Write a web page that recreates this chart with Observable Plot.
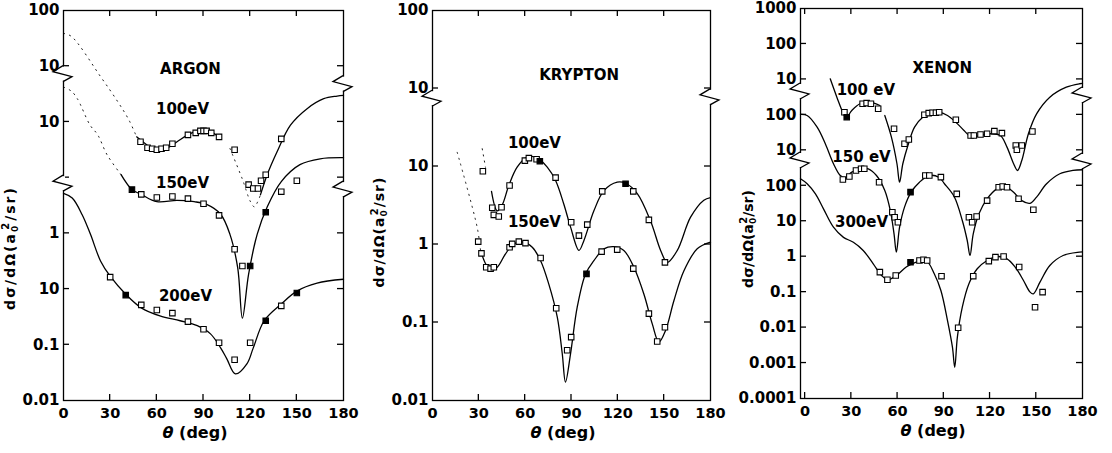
<!DOCTYPE html>
<html><head><meta charset="utf-8">
<script src="https://cdn.jsdelivr.net/npm/d3@7"></script>
<script src="https://cdn.jsdelivr.net/npm/@observablehq/plot@0.6"></script>
<style>
body{margin:0;background:#fff;}
#wrap{display:flex;width:1112px;height:453px;overflow:hidden;}
#wrap svg{overflow:visible;}
</style></head><body><div id="wrap"></div>
<script>
// ---------- shared ----------
const xTicks = [0, 30, 60, 90, 120, 150, 180];

// ---------- ARGON (values on the panel's continuous log axis) ----------
const argonTicks = [0.01, 0.1, 1, 10, 100, 1000, 1e4, 1e5];
const argonTickLabels = ["0.01", "0.1", "10", "1", "", "10", "10", "100"];
const argon100Dotted = [[0,38800],[5,34400],[24,6400],[35,2280],[42,1090],[47,540]];
const argon100Solid = [[47,540],[52,420],[60,300],[67,343],[73,440],[80,586],[88,720],[94.5,663],[100,540]];
const argon100DottedB = [[107,334],[114.8,97],[120.2,37],[122.7,30],[126.6,49]];
const argon100SolidB = [[126.6,49],[130.9,112],[137.3,291],[145.9,873],[156.6,1730],[167.3,2610],[175.9,2910],[180,3000]];
const argon100Open = [[49.5,440],[54,343],[57,330],[60,316],[63,330],[66,343],[70,405],[80,586],[85,636],[88,690],[90,690],[92,690],[95,636],[100,540],[110,316],[119,75],[122,64],[125,64],[127,88],[130,113],[140,497]];
const argon150Dotted = [[0,4220],[5,3580],[9,2580],[17,884],[22,586],[28,258],[37,113]];
const argon150Solid = [[37,113],[44,61],[50,50],[60,37],[73,39],[84,37],[92,33],[101,22],[107,9.6],[112,2.4],[115,0.30],[119,1.85],[124.5,9.6],[131,30],[140,85],[152,171],[165,218],[180,228]];
const argon150Open = [[50,50],[60,44],[70,46],[80,42],[90,34],[100,21],[110,5.2],[115,2.6],[140,56],[150,88]];
const argon150Filled = [[44,61],[120,2.6],[130,24]];
const argon200Solid = [[0,52],[5.6,43],[12,21.6],[17.4,9.5],[23.8,3.2],[30,1.7],[40,0.81],[50,0.46],[62,0.33],[75,0.27],[86,0.22],[94.5,0.157],[101,0.088],[105,0.056],[110.5,0.030],[118,0.046],[122,0.088],[129,0.27],[140,0.54],[150,0.92],[163,1.28],[180,1.5]];
const argon200Open = [[30,1.64],[50,0.52],[60,0.42],[70,0.37],[80,0.26],[90,0.19],[100,0.109],[110,0.054],[120,0.109],[140,0.50]];
const argon200Filled = [[40,0.78],[130,0.27],[150,0.85]];
const argonLabels = [
  {t: "ARGON", x: 81.6, y: 8830},
  {t: "100eV", x: 76.5, y: 1710},
  {t: "150eV", x: 76.5, y: 78},
  {t: "200eV", x: 78.4, y: 0.75}
];
const argonBreaksLeft = [7200, 78];
const argonBreaksRight = [4770, 61];

// ---------- KRYPTON ----------
const kryptonTicks = [0.01, 0.1, 1, 10, 100, 1000];
const kryptonTickLabels = ["0.01", "0.1", "1", "10", "10", "100"];
const krypton100Dotted = [[32.2,16.9],[34.3,9.8]];
const krypton100Solid = [[38.2,4.8],[41.9,2.7],[45.1,3.2],[49.4,5.7],[54.8,9.8],[61.3,13.2],[67.8,12.9],[74.3,9.8],[79.7,6.6],[85,3.3],[89.4,1.67],[94.8,0.84],[98,1.12],[104.5,2.7],[111,4.9],[119.6,6.3],[125,6.1],[132.6,4.5],[141.2,2.0],[147.7,0.84],[152,0.59],[158.5,0.84],[167.1,2.24],[175.7,3.7],[180,4.0]];
const krypton100Open = [[32.6,8.7],[38.7,2.96],[39.7,2.4],[42.9,2.29],[44.7,3.0],[49.9,5.7],[59.8,11.9],[62.4,12.8],[67.4,12.4],[79.7,7.2],[89.8,1.93],[94.8,1.30],[100.2,1.80],[109.9,4.8],[130,4.8],[140.1,2.07],[150.5,0.59]];
const krypton100Filled = [[69.5,11.7],[125,6.0]];
const krypton150Dotted = [[16,15.2],[28.9,1.67],[31.1,0.84]];
const krypton150Solid = [[31.1,0.84],[34.3,0.57],[37.6,0.46],[41.9,0.51],[47.3,0.76],[52.7,1.02],[59.1,1.07],[64.6,0.92],[70,0.62],[75.3,0.31],[80.8,0.117],[84,0.040],[86.1,0.0172],[89.4,0.040],[93.7,0.157],[99.1,0.42],[104.5,0.62],[111,0.88],[117.4,0.94],[123.9,0.84],[130.4,0.51],[136.9,0.23],[142.3,0.096],[146.6,0.056],[150.9,0.079],[156.3,0.19],[162.8,0.46],[171.4,0.88],[180,1.07]];
const krypton150Open = [[29.6,1.09],[31.7,0.77],[34.8,0.51],[37.6,0.49],[39.7,0.51],[49.9,0.92],[51.6,1.02],[55.9,1.09],[60.2,1.04],[70,0.67],[80.1,0.152],[87.2,0.044],[89.8,0.065],[109.5,0.81],[119.6,0.86],[130,0.49],[140.1,0.13],[145.5,0.057],[150.5,0.087]];
const krypton150Filled = [[99.7,0.42]];
const kryptonLabels = [
  {t: "KRYPTON", x: 94.9, y: 147},
  {t: "100eV", x: 66, y: 19.7},
  {t: "150eV", x: 66, y: 1.91}
];
const kryptonBreaksLeft = [74];
const kryptonBreaksRight = [77];

// ---------- XENON ----------
const xenonTicks = [1e-4, 1e-3, 0.01, 0.1, 1, 10, 100, 1e3, 1e4, 1e5, 1e6, 1e7];
const xenonTickLabels = ["0.0001", "0.001", "0.01", "0.1", "1", "10", "100", "10", "100", "10", "100", "1000"];
const xenon100SolidA = [[16.3,104000],[20.6,31600],[24.9,10700],[26.6,8300],[30.3,13300],[35.6,20600],[42,22800],[48.5,18400]];
const xenon100SolidB = [[51.7,9600],[56,2350],[59.6,418],[61.3,126],[63.4,418],[66.7,1370],[71,4500],[76.3,8600],[82.7,11900],[87,11900],[92.4,9600],[97.8,6200],[103.1,3630],[107.4,2460],[113.8,2620],[120.3,2930],[126.7,2620],[131,1230],[135.3,418],[137.8,270],[140.6,517],[144.9,2930],[150.2,10700],[158.8,31600],[169.5,60400],[178,75400],[180,76900]];
const xenon100Open = [[25.5,11900],[37.3,20600],[39.9,21400],[42.7,20600],[47.4,14900],[57.7,4060],[64.5,1530],[67.3,2020],[77.4,10100],[80.2,11200],[82.7,11500],[84.9,11500],[87,11900],[97.8,7300],[107.4,2620],[109.5,2620],[113.8,2800],[118.1,2930],[122.8,3470],[127.7,3050],[136.7,1370],[137.4,1040],[140.6,1370],[147.5,3400]];
const xenon100Filled = [[27,8600]];
const xenon150Solid = [[-3,10300],[1.3,9600],[7.8,4500],[13.1,1530],[18.4,418],[22.8,195],[26,168],[30.3,242],[36.7,301],[41,301],[46.3,195],[51.7,74],[55.3,20],[57.7,4.4],[59.2,1.34],[61.3,6.8],[64.5,25],[68.8,66],[74.2,126],[80.6,195],[87,171],[90.3,116],[96.7,50],[102,10.5],[105.2,2.86],[107,1.08],[109.1,4.4],[112.8,16.2],[118.1,43],[124.5,82],[129.9,95],[135.3,66],[140.6,38],[146,32],[150.2,48],[156.7,114],[165.3,218],[173.8,270],[180,283]];
const xenon150Open = [[24.5,151],[28.7,183],[33,270],[36.3,301],[38.4,301],[48,126],[56.6,18],[58.1,13],[60.2,9.4],[78,195],[80.6,195],[88.1,175],[98.4,59],[106.3,13],[108.4,9.4],[111.3,13.6],[118.1,38],[125.6,91],[128.2,95],[131,91],[138.5,43],[148.1,21]];
const xenon150Filled = [[68.4,66]];
const xenon300Solid = [[-3,157],[1.3,114],[6.7,59],[12,22],[18.4,6.8],[24.9,3.5],[31.3,2.56],[37.7,1.50],[44.2,0.63],[49.6,0.295],[53.8,0.223],[59.2,0.295],[65.6,0.51],[72.1,0.70],[78.5,0.78],[83.8,0.33],[88.1,0.111],[92.4,0.0158],[95.6,0.0028],[97.1,0.00076],[98.8,0.0054],[102,0.0376],[106.3,0.172],[111.7,0.456],[118.1,0.78],[124.5,1.01],[131,0.87],[136.3,0.51],[141.7,0.213],[146,0.100],[148.1,0.090],[152.4,0.191],[158.8,0.565],[167.4,1.08],[178,1.34],[180,1.36]];
const xenon300Open = [[48.5,0.366],[53.4,0.223],[58.8,0.295],[74.2,0.78],[76.8,0.82],[79.2,0.78],[88.5,0.282],[99.3,0.0099],[109.1,0.282],[119.2,0.75],[123.5,0.97],[128.8,1.01],[138.9,0.51],[149.2,0.0376],[154.1,0.100]];
const xenon300Filled = [[68.4,0.70]];
const xenonLabels = [
  {t: "XENON", x: 89, y: 204000},
  {t: "100 eV", x: 39.4, y: 48800},
  {t: "150 eV", x: 36.6, y: 628},
  {t: "300eV", x: 36.6, y: 9.2}
];
const xenonBreaksLeft = [45700, 517];
const xenonBreaksRight = [35200, 484];

const FONT = "'DejaVu Sans', 'Liberation Sans', Arial, sans-serif";

function decor(cfg) {
  return (index, scales, values, dims) => {
    const x = scales.x, y = scales.y;
    const L = dims.marginLeft, R = dims.width - dims.marginRight;
    const T = dims.marginTop, B = dims.height - dims.marginBottom;
    const g = d3.create("svg:g");
    const ln = g.append("g").attr("stroke", "black").attr("stroke-width", 1.3).attr("fill", "none");
    for (const t of xTicks) {
      const px = x(t);
      if (px <= L + 2 || px >= R - 2) continue;
      ln.append("line").attr("x1", px).attr("x2", px).attr("y1", B).attr("y2", B - 6);
      ln.append("line").attr("x1", px).attr("x2", px).attr("y1", T).attr("y2", T + 6);
    }
    for (const v of cfg.yTicks) {
      const py = y(v);
      if (py <= T + 2 || py >= B - 2) continue;
      ln.append("line").attr("x1", L).attr("x2", L + 6).attr("y1", py).attr("y2", py);
      ln.append("line").attr("x1", R).attr("x2", R - 6).attr("y1", py).attr("y2", py);
    }
    const zig = (ax, py) => {
      g.append("line").attr("x1", ax).attr("x2", ax).attr("y1", py - 7).attr("y2", py + 7)
        .attr("stroke", "white").attr("stroke-width", 4);
      g.append("path").attr("d", `M${ax},${py - 8}L${ax - 10},${py - 2}L${ax + 9},${py + 3}L${ax},${py + 8}`)
        .attr("fill", "none").attr("stroke", "black").attr("stroke-width", 1.3);
    };
    cfg.breaksLeft.forEach(v => zig(L, y(v)));
    cfg.breaksRight.forEach(v => zig(R, y(v)));
    const xt = g.append("text").attr("x", (L + R) / 2 - 8).attr("y", B + 38)
      .attr("text-anchor", "middle").attr("font-size", 16).attr("font-weight", "bold")
      .attr("font-family", FONT).attr("fill", "black");
    xt.append("tspan").attr("font-style", "italic").text("θ");
    xt.append("tspan").text(" (deg)");
    const yt = g.append("text")
      .attr("transform", `translate(${cfg.yTitleX},${(T + B) / 2 + cfg.yTitleDy}) rotate(-90)`)
      .attr("text-anchor", "middle").attr("font-size", 14).attr("font-weight", "bold")
      .attr("letter-spacing", cfg.yTitleSpacing)
      .attr("font-family", FONT).attr("fill", "black");
    yt.append("tspan").text("dσ/dΩ(a");
    yt.append("tspan").attr("font-size", 9).attr("dy", 3).text("0");
    yt.append("tspan").attr("font-size", 10).attr("dy", -9).attr("dx", -6).text("2");
    yt.append("tspan").attr("dy", 6).text("/sr)");
    return g.node();
  };
}

function panel(cfg) {
  const yLab = new Map(cfg.yTicks.map((t, i) => [t, cfg.yLabels[i]]));
  const acc = {x: d => d[0], y: d => d[1]};
  return Plot.plot({
    width: cfg.width, height: 453,
    marginLeft: cfg.ml, marginRight: cfg.mr, marginTop: cfg.mt, marginBottom: cfg.mb,
    x: {domain: cfg.xDomain},
    y: {type: "log", domain: cfg.yDomain},
    style: {fontFamily: FONT, fontWeight: "bold", background: "white", color: "black", overflow: "visible"},
    marks: [
      Plot.frame({stroke: "black", strokeWidth: 1.3}),
      Plot.axisX({ticks: xTicks, tickSize: 0, tickPadding: 7, fontSize: 14.5, fontWeight: "bold", label: null}),
      Plot.axisY({ticks: cfg.yTicks, tickFormat: d => yLab.get(d), tickSize: 0, tickPadding: 4, fontSize: 15, fontWeight: "bold", label: null}),
      ...cfg.dotted.map(s => Plot.line(s, {...acc, curve: "catmull-rom", stroke: "black", strokeWidth: 0.9, strokeDasharray: "1.2,5"})),
      ...cfg.solid.map(s => Plot.line(s, {...acc, curve: "catmull-rom", stroke: "black", strokeWidth: 1.3})),
      Plot.dot(cfg.open.flat(), {...acc, symbol: "square", r: 3.1, fill: "white", stroke: "black", strokeWidth: 1.1}),
      Plot.dot(cfg.filled.flat(), {...acc, symbol: "square", r: 3.1, fill: "black", stroke: "black", strokeWidth: 1.1}),
      Plot.text(cfg.labels, {x: "x", y: "y", text: "t", fontSize: 15, fontWeight: "bold", fill: "black"}),
      decor(cfg)
    ]
  });
}

const wrap = document.getElementById("wrap");
wrap.append(panel({
  width: 370, ml: 63, mr: 27, mt: 10, mb: 53,
  xDomain: [0, 180], yDomain: [0.01, 1e5],
  yTicks: argonTicks, yLabels: argonTickLabels,
  dotted: [argon100Dotted, argon100DottedB, argon150Dotted],
  solid: [argon100Solid, argon100SolidB, argon150Solid, argon200Solid],
  open: [argon100Open, argon150Open, argon200Open],
  filled: [argon150Filled, argon200Filled],
  labels: argonLabels,
  breaksLeft: argonBreaksLeft, breaksRight: argonBreaksRight,
  yTitleX: 15, yTitleDy: 43, yTitleSpacing: 2
}));
wrap.append(panel({
  width: 370, ml: 62, mr: 30, mt: 10, mb: 53,
  xDomain: [0, 180], yDomain: [0.01, 1000],
  yTicks: kryptonTicks, yLabels: kryptonTickLabels,
  dotted: [krypton100Dotted, krypton150Dotted],
  solid: [krypton100Solid, krypton150Solid],
  open: [krypton100Open, krypton150Open],
  filled: [krypton100Filled, krypton150Filled],
  labels: kryptonLabels,
  breaksLeft: kryptonBreaksLeft, breaksRight: kryptonBreaksRight,
  yTitleX: 14, yTitleDy: 27, yTitleSpacing: 1
}));
wrap.append(panel({
  width: 372, ml: 60, mr: 30, mt: 8, mb: 55,
  xDomain: [-3, 180], yDomain: [1e-4, 1e7],
  yTicks: xenonTicks, yLabels: xenonTickLabels,
  dotted: [],
  solid: [xenon100SolidA, xenon100SolidB, xenon150Solid, xenon300Solid],
  open: [xenon100Open, xenon150Open, xenon300Open],
  filled: [xenon100Filled, xenon150Filled, xenon300Filled],
  labels: xenonLabels,
  breaksLeft: xenonBreaksLeft, breaksRight: xenonBreaksRight,
  yTitleX: 13, yTitleDy: 36, yTitleSpacing: 0
}));
</script></body></html>
